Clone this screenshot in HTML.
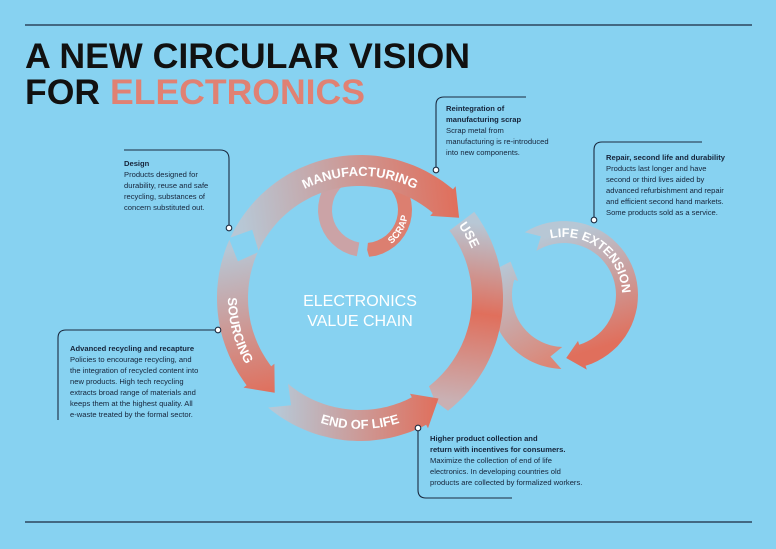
<!DOCTYPE html>
<html><head><meta charset="utf-8"><style>
body{margin:0;width:776px;height:549px;background:#87d2f1;overflow:hidden;font-family:"Liberation Sans",sans-serif;}
svg{position:absolute;left:0;top:0}
.t{font-family:"Liberation Sans",sans-serif;font-size:7.6px;fill:#16243a}
.b{font-weight:bold}
.lbl{font-family:"Liberation Sans",sans-serif;font-weight:bold;fill:#fff}
</style></head><body>
<svg id="s" width="776" height="549" viewBox="0 0 776 549">
<defs>
<path id="pm" d="M245.3,256.3 A122,122 0 0 1 474.7,256.3"/>
<path id="pu" d="M381.2,177.8 A122,122 0 0 1 474.7,339.7"/>
<path id="ps" d="M258.9,213.1 A132,132 0 0 0 314.9,422.1"/>
<path id="pe" d="M246.6,363.5 A131,131 0 0 0 473.4,363.5"/>
<path id="pc" d="M372.5,252.3 A43,43 0 0 0 405.4,195.3"/>
<path id="pl" d="M516.5,261.7 A58,58 0 1 1 608.4,332.3"/>
</defs>
<line x1="25" y1="25" x2="752" y2="25" stroke="#1b2a40" stroke-width="1.3"/>
<line x1="25" y1="522" x2="752" y2="522" stroke="#1b2a40" stroke-width="1.3"/>
<text x="25" y="68" font-size="35" font-weight="bold" fill="#111" font-family="Liberation Sans" textLength="445" lengthAdjust="spacingAndGlyphs">A NEW CIRCULAR VISION</text>
<text x="25" y="104" font-size="35" font-weight="bold" fill="#111" font-family="Liberation Sans" textLength="340" lengthAdjust="spacingAndGlyphs">FOR <tspan fill="#e08173">ELECTRONICS</tspan></text>
<g id="shapes"></g>
<g id="labels">
<text class="lbl" font-size="13"><textPath href="#pm" startOffset="50%" text-anchor="middle">MANUFACTURING</textPath></text>
<text class="lbl" font-size="13"><textPath href="#pu" startOffset="50%" text-anchor="middle">USE</textPath></text>
<text class="lbl" font-size="13"><textPath href="#ps" startOffset="50%" text-anchor="middle">SOURCING</textPath></text>
<text class="lbl" font-size="13"><textPath href="#pe" startOffset="50%" text-anchor="middle">END OF LIFE</textPath></text>
<text class="lbl" font-size="9.5"><textPath href="#pc" startOffset="50%" text-anchor="middle">SCRAP</textPath></text>
<text class="lbl" font-size="12.5"><textPath href="#pl" startOffset="50%" text-anchor="middle">LIFE EXTENSION</textPath></text>
<text x="360" y="306" font-size="16" fill="#fff" text-anchor="middle" font-family="Liberation Sans">ELECTRONICS</text>
<text x="360" y="326" font-size="16" fill="#fff" text-anchor="middle" font-family="Liberation Sans">VALUE CHAIN</text>
</g>
<g fill="none" stroke="#1b2a40" stroke-width="1.1">
<path d="M124,150 H220 Q229,150 229,159 V228"/>
<path d="M436,170 V105 Q436,97 444,97 H526"/>
<path d="M594,220 V150 Q594,142 602,142 H702"/>
<path d="M218,330 H66 Q58,330 58,338 V420"/>
<path d="M418,428 V490 Q418,498 426,498 H512"/>
</g>
<g fill="#fff" stroke="#1b2a40" stroke-width="1.1">
<circle cx="229" cy="228" r="2.8"/><circle cx="436" cy="170" r="2.8"/><circle cx="594" cy="220" r="2.8"/><circle cx="218" cy="330" r="2.8"/><circle cx="418" cy="428" r="2.8"/>
</g>
<g class="t">
<text x="124" y="166" class="t b">Design</text>
<text x="124" y="177" class="t">Products designed for</text>
<text x="124" y="188" class="t">durability, reuse and safe</text>
<text x="124" y="199" class="t">recycling, substances of</text>
<text x="124" y="210" class="t">concern substituted out.</text>
<text x="446" y="111" class="t b">Reintegration of</text>
<text x="446" y="122" class="t b">manufacturing scrap</text>
<text x="446" y="133" class="t">Scrap metal from</text>
<text x="446" y="144" class="t">manufacturing is re-introduced</text>
<text x="446" y="155" class="t">into new components.</text>
<text x="606" y="160" class="t b">Repair, second life and durability</text>
<text x="606" y="171" class="t">Products last longer and have</text>
<text x="606" y="182" class="t">second or third lives aided by</text>
<text x="606" y="193" class="t">advanced refurbishment and repair</text>
<text x="606" y="204" class="t">and efficient second hand markets.</text>
<text x="606" y="215" class="t">Some products sold as a service.</text>
<text x="70" y="351" class="t b">Advanced recycling and recapture</text>
<text x="70" y="362" class="t">Policies to encourage recycling, and</text>
<text x="70" y="373" class="t">the integration of recycled content into</text>
<text x="70" y="384" class="t">new products. High tech recycling</text>
<text x="70" y="395" class="t">extracts broad range of materials and</text>
<text x="70" y="406" class="t">keeps them at the highest quality. All</text>
<text x="70" y="417" class="t">e-waste treated by the formal sector.</text>
<text x="430" y="441" class="t b">Higher product collection and</text>
<text x="430" y="452" class="t b">return with incentives for consumers.</text>
<text x="430" y="463" class="t">Maximize the collection of end of life</text>
<text x="430" y="474" class="t">electronics. In developing countries old</text>
<text x="430" y="485" class="t">products are collected by formalized workers.</text>
</g>
</svg>
<script>
(function(){
var NS="http://www.w3.org/2000/svg",svg=document.getElementById("s"),defs=svg.querySelector("defs"),g=document.getElementById("shapes"),n=0;
function P(cx,cy,r,a){a=a*Math.PI/180;return[cx+r*Math.cos(a),cy+r*Math.sin(a)];}
function seg(cx,cy,ri,ro,a1,a2,head,c1,c2,c3){
 var dir=a2>a1?1:-1,w=ro-ri,rm=(ri+ro)/2,hl=head?(w*0.75)*180/Math.PI/rm:0,ae=a2-dir*hl,pts=[],steps=40,i,a;
 for(i=0;i<=steps;i++){a=a1+(ae-a1)*i/steps;pts.push(P(cx,cy,ro,a));}
 if(head){pts.push(P(cx,cy,ro+4,ae));pts.push(P(cx,cy,rm,a2));pts.push(P(cx,cy,ri-4,ae));}
 else{pts.push(P(cx,cy,rm,a2+dir*2));}
 for(i=steps;i>=0;i--){a=a1+(ae-a1)*i/steps;pts.push(P(cx,cy,ri,a));}
 pts.push(P(cx,cy,rm,a1+dir*hl*0.7));
 var id="gr"+(n++),lg=document.createElementNS(NS,"linearGradient"),p1=P(cx,cy,rm,a1),p2=P(cx,cy,rm,a2);
 lg.setAttribute("id",id);lg.setAttribute("gradientUnits","userSpaceOnUse");
 lg.setAttribute("x1",p1[0]);lg.setAttribute("y1",p1[1]);lg.setAttribute("x2",p2[0]);lg.setAttribute("y2",p2[1]);
 var cols=c3?[c1,c2,c3]:[c1,c2];
 cols.forEach(function(c,k){var s=document.createElementNS(NS,"stop");s.setAttribute("offset",k/(cols.length-1));s.setAttribute("stop-color",c);lg.appendChild(s);});
 defs.appendChild(lg);
 var pg=document.createElementNS(NS,"polygon");
 pg.setAttribute("points",pts.map(function(p){return p[0].toFixed(1)+","+p[1].toFixed(1)}).join(" "));
 pg.setAttribute("fill","url(#"+id+")");g.appendChild(pg);
}
var G="#b7c7d5",S="#e06f5c";
seg(564,295,52,74,92,212,true,"#dc8676",G);
seg(564,295,52,74,238,448,true,G,S);
seg(365,210,33,47,100,445,false,"#cba3a6","#dc7f70");
seg(360,298,112,143,323,412,false,G,S,"#c9b0b3");
seg(360,298,112,143,205,321,true,G,S);
seg(360,298,112,143,130,52,true,G,S);
seg(360,298,112,143,204,132,true,G,S);
})();
</script>
</body></html>
